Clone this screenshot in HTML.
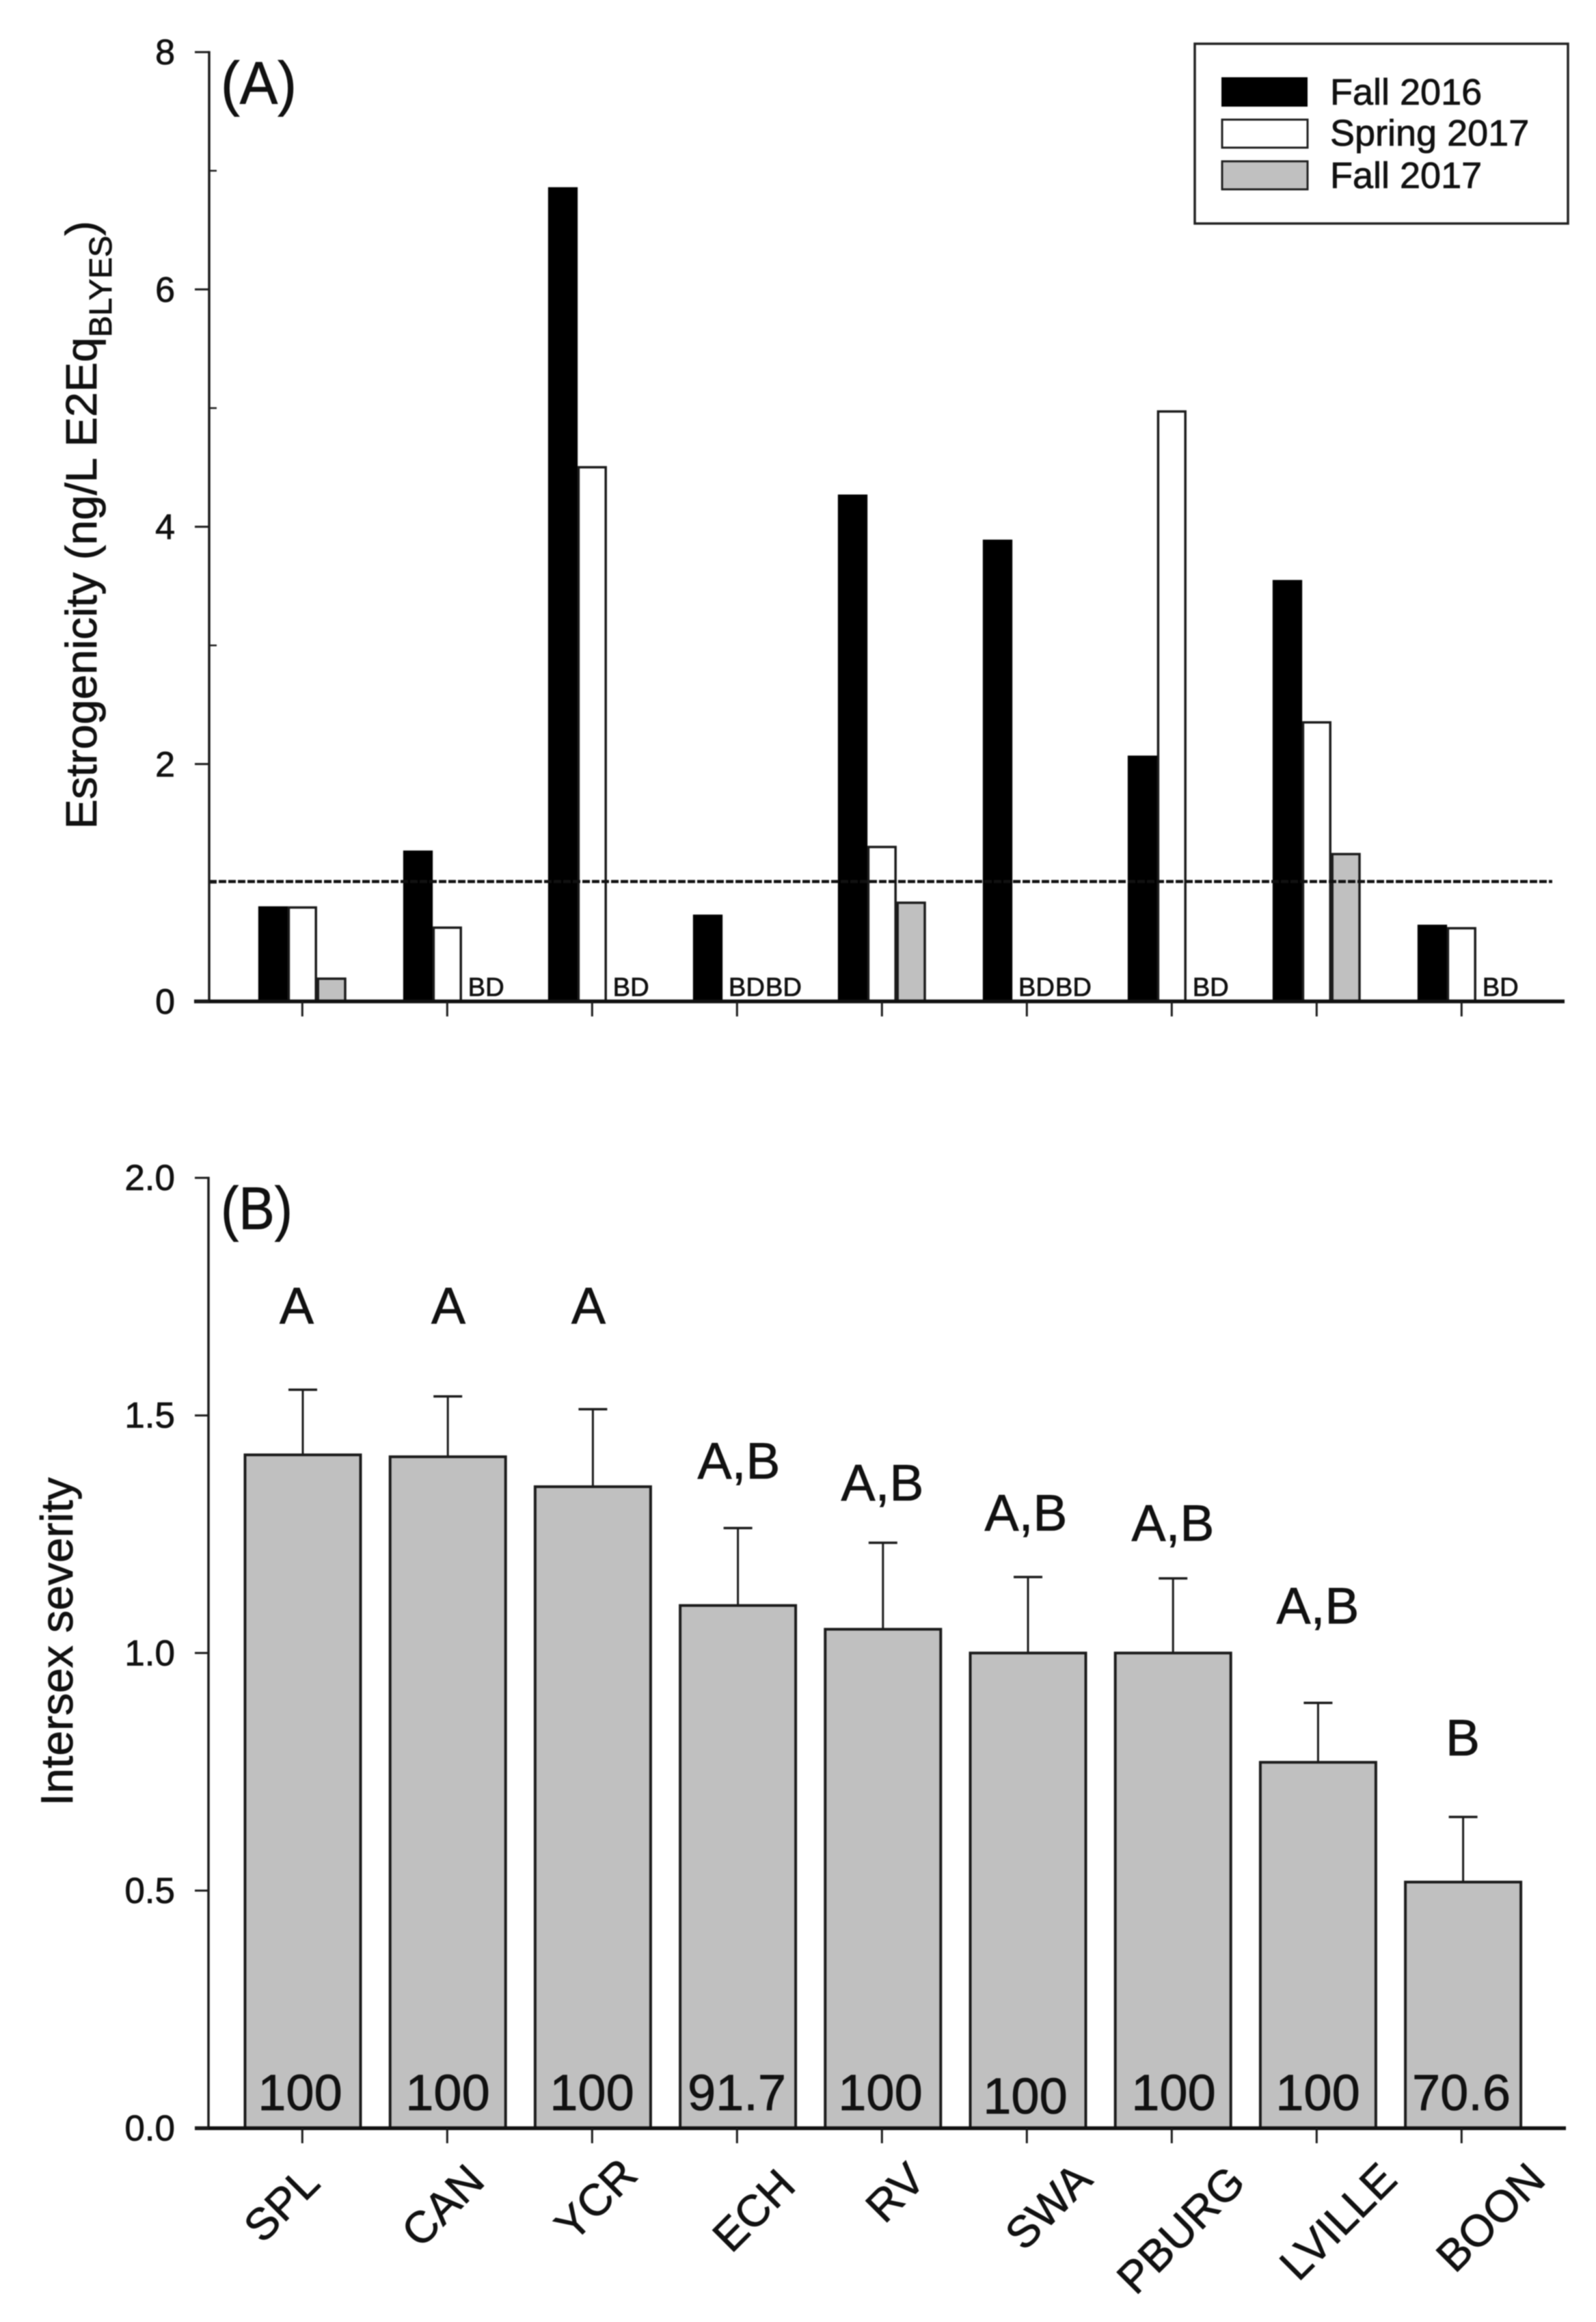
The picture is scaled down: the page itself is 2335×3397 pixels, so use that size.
<!DOCTYPE html>
<html lang="en">
<head>
<meta charset="utf-8">
<title>Estrogenicity and intersex severity by site</title>
<style>
html,body{margin:0;padding:0;background:#fff;}
svg{display:block;filter:blur(0.7px);}
text{font-family:"Liberation Sans",sans-serif;fill:#111;stroke:#111;stroke-width:0.8px;}
</style>
</head>
<body>
<svg id="chart" xmlns="http://www.w3.org/2000/svg" width="2335" height="3397" viewBox="0 0 2335 3397">
  <rect x="0" y="0" width="2335" height="3397" fill="#ffffff"/>
  <g id="panel-a">
    <text x="323" y="152" font-size="88" textLength="111" lengthAdjust="spacingAndGlyphs">(A)</text>
    <text transform="translate(141 1213) rotate(-90)" font-size="64" textLength="890" lengthAdjust="spacingAndGlyphs">Estrogenicity (ng/L E2Eq<tspan font-size="46" dy="22">BLYES</tspan><tspan dy="-22">)</tspan></text>
    <g>
      <rect x="1748" y="64" width="546" height="263" fill="#fff" stroke="#222" stroke-width="3.5"/>
      <rect x="1787" y="113" width="126" height="43" fill="#000"/>
      <text x="1946" y="153" font-size="54">Fall 2016</text>
      <rect x="1788" y="175" width="125" height="41" fill="#fff" stroke="#222" stroke-width="3"/>
      <text x="1946" y="213" font-size="54">Spring 2017</text>
      <rect x="1788" y="236" width="125" height="41" fill="#c0c0c0" stroke="#222" stroke-width="3"/>
      <text x="1946" y="275" font-size="54">Fall 2017</text>
    </g>
  </g>
  <g id="panel-b">
    <text x="323" y="1798" font-size="88" textLength="105" lengthAdjust="spacingAndGlyphs">(B)</text>
    <text transform="translate(106 2642) rotate(-90)" font-size="66">Intersex severity</text>
  </g>
  <g id="annotations">
    <g font-size="75" text-anchor="middle">
      <text x="434" y="1936">A</text>
      <text x="656" y="1936">A</text>
      <text x="861" y="1936">A</text>
      <text x="1081" y="2163">A,B</text>
      <text x="1291" y="2195">A,B</text>
      <text x="1501" y="2239">A,B</text>
      <text x="1716" y="2254">A,B</text>
      <text x="1928" y="2375">A,B</text>
      <text x="2140" y="2568">B</text>
    </g>
    <g font-size="74" text-anchor="middle">
      <text x="439" y="3087">100</text>
      <text x="655" y="3087">100</text>
      <text x="866" y="3087">100</text>
      <text x="1078" y="3087">91.7</text>
      <text x="1288" y="3087">100</text>
      <text x="1500" y="3092">100</text>
      <text x="1717" y="3087">100</text>
      <text x="1928" y="3087">100</text>
      <text x="2138" y="3087">70.6</text>
    </g>
    <g font-size="65" text-anchor="end">
      <text transform="translate(471 3197) rotate(-45)">SPL</text>
      <text transform="translate(712 3194) rotate(-45)">CAN</text>
      <text transform="translate(936 3185) rotate(-45)">YCR</text>
      <text transform="translate(1167 3201) rotate(-45)">ECH</text>
      <text transform="translate(1357 3192) rotate(-45)">RV</text>
      <text transform="translate(1601 3192) rotate(-45)">SWA</text>
      <text transform="translate(1825 3196) rotate(-45)">PBURG</text>
      <text transform="translate(2047 3192) rotate(-45)">LVILLE</text>
      <text transform="translate(2264 3192) rotate(-45)">BOON</text>
    </g>
  </g>
</svg>
<script>
const categories = ['SPL', 'CAN', 'YCR', 'ECH', 'RV', 'SWA', 'PBURG', 'LVILLE', 'BOON'];
const fall2016 = [0.80, 1.27, 6.86, 0.73, 4.27, 3.89, 2.07, 3.55, 0.645];
const spring2017 = [0.80, 0.63, 4.51, null, 1.31, null, 4.98, 2.36, 0.625];
const fall2017 = [0.20, null, null, null, 0.84, null, null, 1.25, null];
const detectionLimit = [1.01];
const severityMean = [1.417, 1.413, 1.35, 1.10, 1.05, 1.00, 1.00, 0.77, 0.518];
const severityUpper = [1.554, 1.54, 1.513, 1.263, 1.232, 1.16, 1.157, 0.895, 0.655];
const estrogenicityMajorTicks = [0, 2, 4, 6, 8];
const estrogenicityMinorTicks = [1, 3, 5, 7];
const severityTicks = ['0.0', '0.5', '1.0', '1.5', '2.0'];

const SVGNS = 'http://www.w3.org/2000/svg';
const panelA = document.getElementById('panel-a');
const panelB = document.getElementById('panel-b');

function mk(parent, tag, attrs, content) {
  const el = document.createElementNS(SVGNS, tag);
  for (const k in attrs) el.setAttribute(k, attrs[k]);
  if (content !== undefined) el.textContent = content;
  parent.appendChild(el);
  return el;
}

function xCenterA(i) { return 442.3 + 212 * i; }
function xCenterB(i) { return 443 + 212.2 * i; }
function yA(v) { return 1465 - 173.6 * v; }
function yB(v) { return 3113.5 - 695.2 * v; }

const BAR_W_A = 42.8;
const STROKE = '#1c1c1c';

/* Panel A bars */
const seriesA = [
  { key: 'fall-2016', values: fall2016, fill: '#000', stroke: '#000' },
  { key: 'spring-2017', values: spring2017, fill: '#fff', stroke: STROKE },
  { key: 'fall-2017', values: fall2017, fill: '#c0c0c0', stroke: STROKE }
];
categories.forEach(function (cat, i) {
  let lastBdX = null;
  seriesA.forEach(function (s, j) {
    const slot = xCenterA(i) - 1.5 * BAR_W_A + j * BAR_W_A;
    const v = s.values[i];
    if (v === null) {
      const bdX = lastBdX === null ? slot + 9 : lastBdX + 54;
      lastBdX = bdX;
      const bd = mk(panelA, 'text', { x: bdX, y: 1457, 'font-size': 38, textLength: 53, lengthAdjust: 'spacingAndGlyphs' }, 'BD');
      
      
      return;
    }
    const top = yA(v);
    const bar = mk(panelA, 'rect', {
      x: slot + 1.5, y: top + 1.5, width: BAR_W_A - 3, height: yA(0) - top - 1.5,
      fill: s.fill, stroke: s.stroke, 'stroke-width': 3.5
    });
    
    
  });
});

/* Panel A threshold line */
const limitLine = mk(panelA, 'line', {
  x1: 306, x2: 2271, y1: yA(detectionLimit[0]), y2: yA(detectionLimit[0]),
  stroke: '#111', 'stroke-width': 4.5, 'stroke-dasharray': '11 3'
});



/* Panel A axes */
const yAxisA = mk(panelA, 'line', { x1: 306, x2: 306, y1: yA(8) - 1.5, y2: yA(0), stroke: STROKE, 'stroke-width': 3.5 });


const xAxisA = mk(panelA, 'line', { x1: 284, x2: 2289, y1: yA(0), y2: yA(0), stroke: '#111', 'stroke-width': 5.5 });


estrogenicityMajorTicks.forEach(function (v) {
  const t = mk(panelA, 'line', { x1: 285, x2: 306, y1: yA(v), y2: yA(v), stroke: STROKE, 'stroke-width': 3 });
  
  
  const l = mk(panelA, 'text', { x: 256, y: yA(v) + 18, 'font-size': 52, 'text-anchor': 'end' }, String(v));
  
  
});
estrogenicityMinorTicks.forEach(function (v) {
  const t = mk(panelA, 'line', { x1: 306, x2: 317, y1: yA(v), y2: yA(v), stroke: STROKE, 'stroke-width': 2.5 });
  
  
});
categories.forEach(function (cat, i) {
  const t = mk(panelA, 'line', { x1: xCenterA(i), x2: xCenterA(i), y1: yA(0), y2: yA(0) + 22, stroke: STROKE, 'stroke-width': 3 });
  
  
});

/* Panel B bars and error bars */
const BAR_W_B = 169;
categories.forEach(function (cat, i) {
  const cx = xCenterB(i);
  const errTop = yB(severityUpper[i]);
  const top = yB(severityMean[i]);
  const stem = mk(panelB, 'line', { x1: cx, x2: cx, y1: errTop, y2: top, stroke: STROKE, 'stroke-width': 3 });
  
  
  const cap = mk(panelB, 'line', { x1: cx - 21, x2: cx + 21, y1: errTop, y2: errTop, stroke: STROKE, 'stroke-width': 3.5 });
  
  
  const bar = mk(panelB, 'rect', {
    x: cx - BAR_W_B / 2, y: top, width: BAR_W_B, height: yB(0) - top,
    fill: '#c0c0c0', stroke: STROKE, 'stroke-width': 4
  });
  
  
});

/* Panel B axes */
const yAxisB = mk(panelB, 'line', { x1: 305, x2: 305, y1: yB(2) - 1.5, y2: yB(0), stroke: STROKE, 'stroke-width': 3.5 });


const xAxisB = mk(panelB, 'line', { x1: 285, x2: 2291, y1: yB(0), y2: yB(0), stroke: '#111', 'stroke-width': 5.5 });


severityTicks.forEach(function (label) {
  const v = parseFloat(label);
  const t = mk(panelB, 'line', { x1: 285, x2: 305, y1: yB(v), y2: yB(v), stroke: STROKE, 'stroke-width': 3 });
  
  
  const l = mk(panelB, 'text', { x: 256, y: yB(v) + 18, 'font-size': 53, 'text-anchor': 'end' }, label);
  
  
});
categories.forEach(function (cat, i) {
  const t = mk(panelB, 'line', { x1: xCenterA(i), x2: xCenterA(i), y1: yB(0), y2: yB(0) + 22, stroke: STROKE, 'stroke-width': 3 });
  
  
});
</script>
</body>
</html>
